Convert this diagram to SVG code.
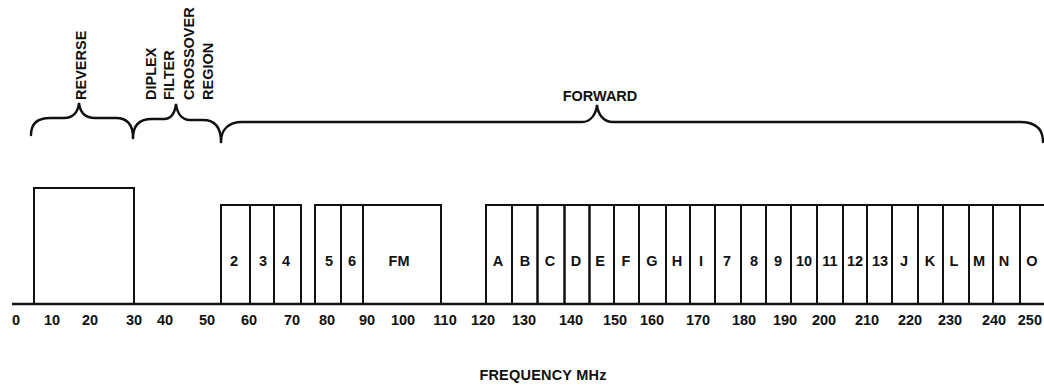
<svg xmlns="http://www.w3.org/2000/svg" width="1044" height="388" viewBox="0 0 1044 388">
<style>
text{font-family:"Liberation Sans",Arial,sans-serif;font-weight:bold;font-size:14.5px;fill:#111}
.lab{text-anchor:middle}
.box{fill:none;stroke:#111;stroke-width:2}
.brace{fill:none;stroke:#111;stroke-width:2.4;stroke-linecap:round}
.axis{fill:none;stroke:#111;stroke-width:2.6}
</style>
<rect width="1044" height="388" fill="#fff"/>
<g id="connectors">
<path class="axis" d="M12,304 H1044"/>
<path id="brace-reverse" class="brace" d="M31,135 C31,123 38,118 50,118 L64,118 C73,118 78,112 79,103 C80,112 85,118 95,118 L116,118 C127,118 133,124 133,138"/>
<path id="brace-diplex" class="brace" d="M133,138 C133,125 140,119 152,119 L164,119 C172,119 175,112 176,104 C177,112 181,120 190,120 L203,120 C215,120 221,128 221,142"/>
<path id="brace-forward" class="brace" d="M221,142 C221,130 228,122 242,122 L582,122 C591,122 596,114 597,105 C598,114 603,122 613,122 L1020,122 C1034,122 1043,128 1043,142"/>
</g>
<g id="labels">
<text transform="translate(85.5,100) rotate(-90)">REVERSE</text>
<text transform="translate(155.5,100) rotate(-90)">DIPLEX</text>
<text transform="translate(173.5,100) rotate(-90)">FILTER</text>
<text transform="translate(193.5,100) rotate(-90)">CROSSOVER</text>
<text transform="translate(212.5,100) rotate(-90)">REGION</text>
<text class="lab" x="600" y="101">FORWARD</text>
<text class="lab" x="543" y="380" style="letter-spacing:0.2px">FREQUENCY MHz</text>
</g>
<g id="reverse-band"><path class="box" d="M34,304 V188 H134 V304"/></g>
<g id="ch-2"><rect class="box" x="221" y="205" width="29" height="99"/><text class="lab" x="234" y="266">2</text></g>
<g id="ch-3"><rect class="box" x="250" y="205" width="24" height="99"/><text class="lab" x="263" y="266">3</text></g>
<g id="ch-4"><rect class="box" x="274" y="205" width="27" height="99"/><text class="lab" x="286" y="266">4</text></g>
<g id="ch-5"><rect class="box" x="315" y="205" width="26" height="99"/><text class="lab" x="329" y="266">5</text></g>
<g id="ch-6"><rect class="box" x="341" y="205" width="22" height="99"/><text class="lab" x="352" y="266">6</text></g>
<g id="ch-FM"><rect class="box" x="363" y="205" width="78" height="99"/><text class="lab" x="399" y="266">FM</text></g>
<g id="ch-A"><rect class="box" x="486" y="205" width="26" height="99"/><text class="lab" x="498" y="266">A</text></g>
<g id="ch-B"><rect class="box" x="512" y="205" width="25.5" height="99"/><text class="lab" x="525" y="266">B</text></g>
<g id="ch-C"><rect class="box" x="537.5" y="205" width="27" height="99"/><text class="lab" x="550" y="266">C</text></g>
<g id="ch-D"><rect class="box" x="564.5" y="205" width="25" height="99"/><text class="lab" x="576" y="266">D</text></g>
<g id="ch-E"><rect class="box" x="589.5" y="205" width="24.5" height="99"/><text class="lab" x="600" y="266">E</text></g>
<g id="ch-F"><rect class="box" x="614" y="205" width="25" height="99"/><text class="lab" x="626" y="266">F</text></g>
<g id="ch-G"><rect class="box" x="639" y="205" width="27" height="99"/><text class="lab" x="652" y="266">G</text></g>
<g id="ch-H"><rect class="box" x="666" y="205" width="24" height="99"/><text class="lab" x="677" y="266">H</text></g>
<g id="ch-I"><rect class="box" x="690" y="205" width="25" height="99"/><text class="lab" x="701" y="266">I</text></g>
<g id="ch-7"><rect class="box" x="715" y="205" width="26" height="99"/><text class="lab" x="727" y="266">7</text></g>
<g id="ch-8"><rect class="box" x="741" y="205" width="25" height="99"/><text class="lab" x="754" y="266">8</text></g>
<g id="ch-9"><rect class="box" x="766" y="205" width="25" height="99"/><text class="lab" x="778" y="266">9</text></g>
<g id="ch-10"><rect class="box" x="791" y="205" width="26" height="99"/><text class="lab" x="804" y="266">10</text></g>
<g id="ch-11"><rect class="box" x="817" y="205" width="26" height="99"/><text class="lab" x="830" y="266">11</text></g>
<g id="ch-12"><rect class="box" x="843" y="205" width="24" height="99"/><text class="lab" x="855" y="266">12</text></g>
<g id="ch-13"><rect class="box" x="867" y="205" width="25" height="99"/><text class="lab" x="880" y="266">13</text></g>
<g id="ch-J"><rect class="box" x="892" y="205" width="26" height="99"/><text class="lab" x="904" y="266">J</text></g>
<g id="ch-K"><rect class="box" x="918" y="205" width="25" height="99"/><text class="lab" x="930" y="266">K</text></g>
<g id="ch-L"><rect class="box" x="943" y="205" width="26" height="99"/><text class="lab" x="954" y="266">L</text></g>
<g id="ch-M"><rect class="box" x="969" y="205" width="24" height="99"/><text class="lab" x="979" y="266">M</text></g>
<g id="ch-N"><rect class="box" x="993" y="205" width="27" height="99"/><text class="lab" x="1004" y="266">N</text></g>
<g id="ch-O"><path class="box" d="M1044,205 H1020 V304"/><text class="lab" x="1032" y="266">O</text></g>
<g id="axis-labels">
<text class="lab" x="16" y="325">0</text>
<text class="lab" x="52" y="325">10</text>
<text class="lab" x="90" y="325">20</text>
<text class="lab" x="134" y="325">30</text>
<text class="lab" x="165" y="325">40</text>
<text class="lab" x="207" y="325">50</text>
<text class="lab" x="249" y="325">60</text>
<text class="lab" x="292" y="325">70</text>
<text class="lab" x="327" y="325">80</text>
<text class="lab" x="367" y="325">90</text>
<text class="lab" x="403" y="325">100</text>
<text class="lab" x="445" y="325">110</text>
<text class="lab" x="483" y="325">120</text>
<text class="lab" x="524" y="325">130</text>
<text class="lab" x="571" y="325">140</text>
<text class="lab" x="615" y="325">150</text>
<text class="lab" x="652" y="325">160</text>
<text class="lab" x="698" y="325">170</text>
<text class="lab" x="744" y="325">180</text>
<text class="lab" x="785" y="325">190</text>
<text class="lab" x="824" y="325">200</text>
<text class="lab" x="867" y="325">210</text>
<text class="lab" x="910" y="325">220</text>
<text class="lab" x="950" y="325">230</text>
<text class="lab" x="994" y="325">240</text>
<text x="1042" y="325" style="text-anchor:end">250</text>
</g>
</svg>
